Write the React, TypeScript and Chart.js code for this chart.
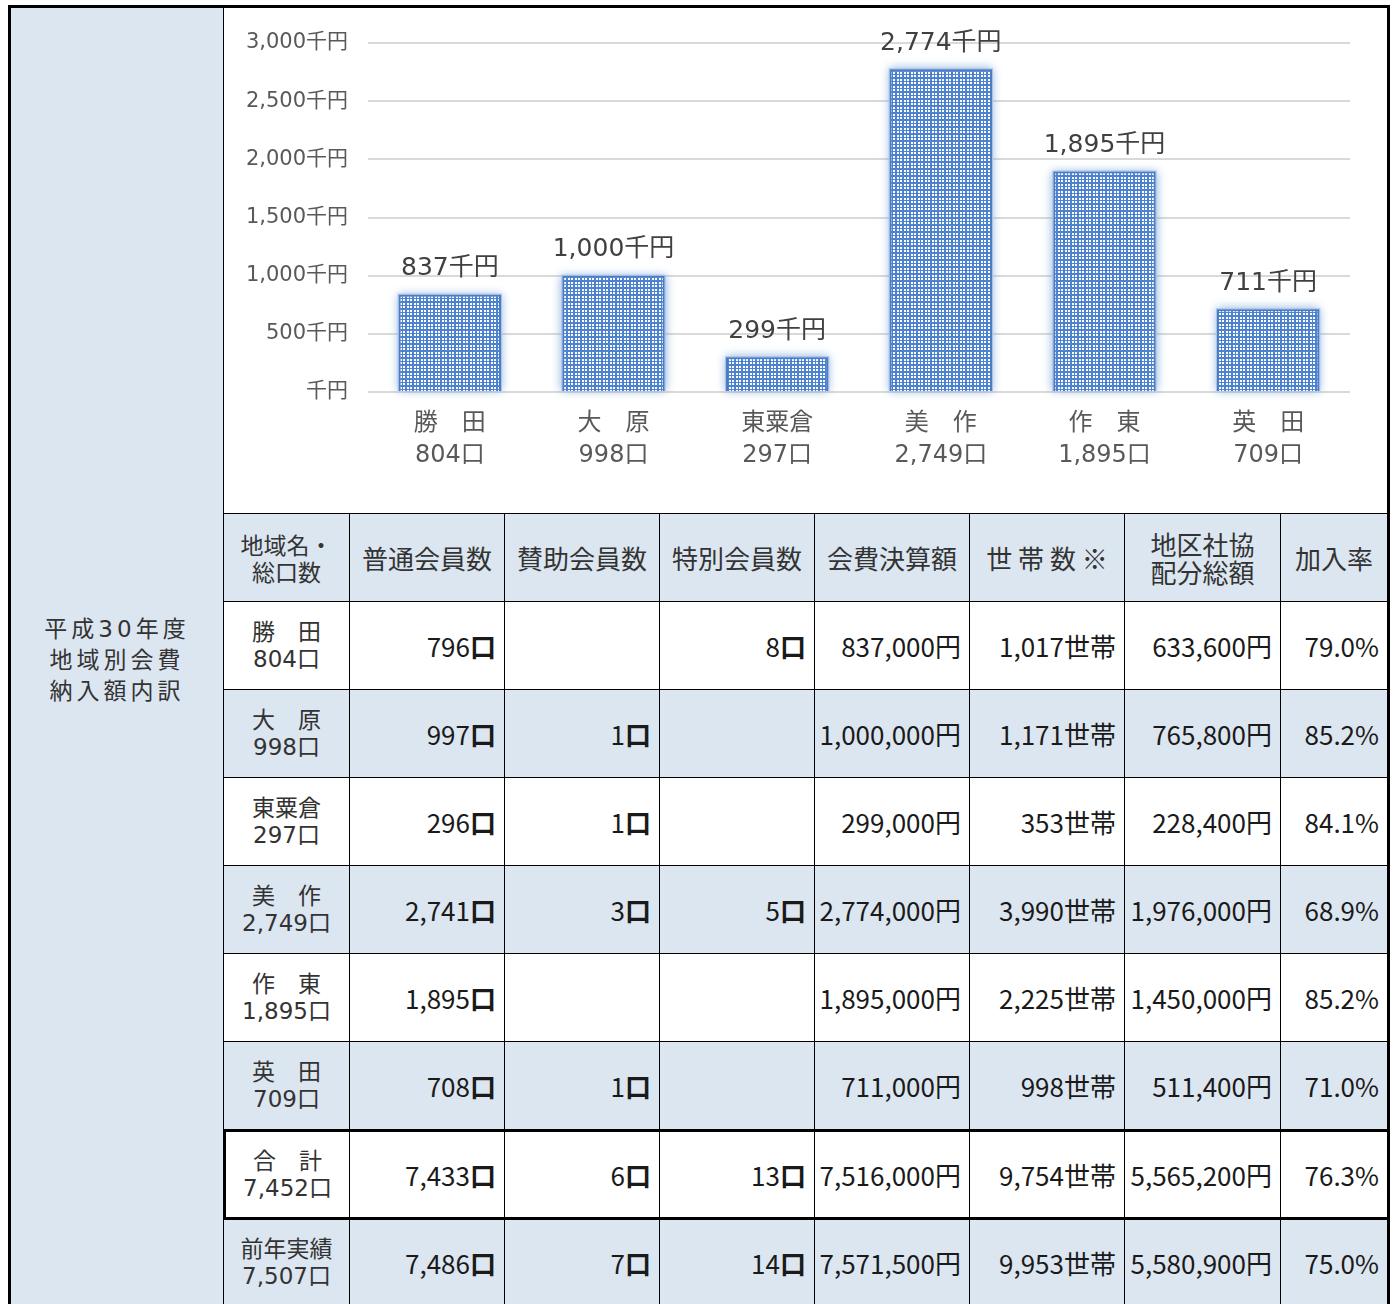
import React, { useEffect, useRef } from 'react';
import { Chart, registerables } from 'chart.js';

Chart.register(...registerables);

if (typeof document !== 'undefined') {
  document.documentElement.style.overflow = 'hidden';
  document.body.style.overflow = 'hidden';
}

// ---- chart data ----
const REGIONS = ['勝　田', '大　原', '東粟倉', '美　作', '作　東', '英　田'];
const TOTAL_UNITS = ['804口', '998口', '297口', '2,749口', '1,895口', '709口'];
const FEE_THOUSAND_YEN = [837, 1000, 299, 2774, 1895, 711];
const Y_MIN = 0;
const Y_MAX = 3000;
const Y_STEP = 500;

// ---- table data ----
const HEADERS = [
  ['地域名・', '総口数'],
  ['普通会員数'],
  ['賛助会員数'],
  ['特別会員数'],
  ['会費決算額'],
  ['世 帯 数 ※'],
  ['地区社協', '配分総額'],
  ['加入率'],
];
const ROW_NAMES = ['勝　田', '大　原', '東粟倉', '美　作', '作　東', '英　田', '合　計', '前年実績'];
const ROW_UNITS = ['804口', '998口', '297口', '2,749口', '1,895口', '709口', '7,452口', '7,507口'];
const REGULAR = ['796', '997', '296', '2,741', '1,895', '708', '7,433', '7,486'];
const SUPPORT = ['', '1', '1', '3', '', '1', '6', '7'];
const SPECIAL = ['8', '', '', '5', '', '', '13', '14'];
const FEES = ['837,000', '1,000,000', '299,000', '2,774,000', '1,895,000', '711,000', '7,516,000', '7,571,500'];
const HOUSEHOLDS = ['1,017', '1,171', '353', '3,990', '2,225', '998', '9,754', '9,953'];
const ALLOCATION = ['633,600', '765,800', '228,400', '1,976,000', '1,450,000', '511,400', '5,565,200', '5,580,900'];
const RATE = ['79.0', '85.2', '84.1', '68.9', '85.2', '71.0', '76.3', '75.0'];
const SIDE_TITLE = ['平成30年度', '地域別会費', '納入額内訳'];

const FONT_ROUND = "'DejaVu Sans', 'Noto Sans CJK JP', sans-serif";
const FONT_JP = "'Noto Sans CJK JP', sans-serif";
const BLUE_BG = '#DCE6F1';
const COL_WIDTHS = [126, 155, 155, 155, 155, 155, 156, 107];
const TOTAL_ROW = 6;

function BarChart() {
  const ref = useRef<HTMLCanvasElement>(null);
  useEffect(() => {
    const canvas = ref.current!;
    const pc = document.createElement('canvas');
    pc.width = 7;
    pc.height = 7;
    const pctx = pc.getContext('2d')!;
    pctx.fillStyle = '#4D82D0';
    pctx.fillRect(0, 0, 7, 7);
    pctx.fillStyle = '#FFFFFF';
    [1, 4].forEach((x) => [1, 4].forEach((y) => pctx.fillRect(x, y, 2, 2)));
    const pattern = canvas.getContext('2d')!.createPattern(pc, 'repeat');

    const barDecor = {
      id: 'barDecor',
      beforeDatasetsDraw(chart: any) {
        const c = chart.ctx;
        c.save();
        c.shadowColor = 'rgba(120,160,215,0.8)';
        c.shadowBlur = 9;
        c.fillStyle = '#A9C3E8';
        chart.getDatasetMeta(0).data.forEach((el: any) => {
          const w = el.width + 2;
          c.fillRect(el.x - w / 2, el.y - 1, w, el.base - el.y + 1);
        });
        c.restore();
      },
      afterDatasetsDraw(chart: any) {
        const c = chart.ctx;
        c.save();
        c.font = `25px ${FONT_ROUND}`;
        c.fillStyle = '#404040';
        c.textAlign = 'center';
        c.textBaseline = 'middle';
        const meta = chart.getDatasetMeta(0);
        meta.data.forEach((el: any, i: number) => {
          const v = chart.data.datasets[0].data[i] as number;
          c.fillText(`${v.toLocaleString('en-US')}千円`, el.x, el.y - 26);
        });
        c.restore();
      },
    };

    const chart = new Chart(canvas, {
      type: 'bar',
      data: {
        labels: REGIONS.map((r, i) => [r, TOTAL_UNITS[i]]),
        datasets: [
          {
            data: FEE_THOUSAND_YEN,
            backgroundColor: pattern as any,
            borderColor: '#4A7CC4',
            borderWidth: 2,
            categoryPercentage: 1,
            barPercentage: 0.625,
          },
        ],
      },
      options: {
        responsive: true,
        maintainAspectRatio: false,
        animation: false,
        layout: { padding: { top: 35, right: 37, left: 0, bottom: 0 } },
        plugins: { legend: { display: false }, tooltip: { enabled: false } },
        scales: {
          x: {
            grid: { display: false, drawTicks: false },
            border: { display: false },
            ticks: {
              color: '#595959',
              font: { family: FONT_ROUND, size: 24, lineHeight: 1.33 },
              padding: 16,
              maxRotation: 0,
              autoSkip: false,
            },
            afterFit: (s: any) => {
              s.height = 121;
            },
          },
          y: {
            min: Y_MIN,
            max: Y_MAX,
            grid: { color: '#D9D9D9', lineWidth: 2, drawTicks: false },
            border: { display: false },
            ticks: {
              stepSize: Y_STEP,
              color: '#595959',
              font: { family: FONT_ROUND, size: 21 },
              padding: 20,
              callback: (v: any) => (Number(v) === 0 ? '千円' : `${Number(v).toLocaleString('en-US')}千円`),
            },
            afterFit: (s: any) => {
              s.width = 144;
            },
          },
        },
      },
      plugins: [barDecor],
    });
    return () => chart.destroy();
  }, []);
  return (
    <div style={{ position: 'relative', width: 1163, height: 505 }}>
      <canvas ref={ref} />
    </div>
  );
}

function Unit({ u }: { u: string }) {
  return <span style={{ fontWeight: 700 }}>{u}</span>;
}

export default function App() {
  const cellBase = (r: number, c: number, bg: string): React.CSSProperties => {
    const isTotal = r === TOTAL_ROW;
    const afterTotal = r === TOTAL_ROW + 1;
    return {
      boxSizing: 'border-box',
      background: bg,
      borderLeft: c === 0 && isTotal ? '3px solid #000' : '1px solid #000',
      borderTop: isTotal || afterTotal ? '3px solid #000' : '1px solid #000',
      display: 'flex',
      alignItems: 'center',
      color: '#1a1a1a',
    };
  };

  const numCell = (r: number, c: number, bg: string, text: string, unit: React.ReactNode, key: string) => (
    <div
      key={key}
      style={{ ...cellBase(r, c, bg), justifyContent: 'flex-end', paddingRight: 8, fontFamily: FONT_JP, fontSize: 26 }}
    >
      {text ? (
        <span>
          {text}
          {unit}
        </span>
      ) : null}
    </div>
  );

  return (
    <div
      style={{
        position: 'absolute',
        left: 8,
        top: 5,
        width: 1382,
        boxSizing: 'border-box',
        border: '3px solid #000',
        display: 'flex',
        fontFamily: FONT_JP,
        background: '#fff',
      }}
    >
      <div
        style={{
          width: 212,
          background: BLUE_BG,
          display: 'flex',
          flexDirection: 'column',
          alignItems: 'center',
          justifyContent: 'center',
          paddingTop: 8,
          boxSizing: 'border-box',
          fontFamily: FONT_ROUND,
          fontSize: 23,
          lineHeight: '31px',
          letterSpacing: 4,
          color: '#333',
        }}
      >
        {SIDE_TITLE.map((t) => (
          <div key={t}>{t}</div>
        ))}
      </div>
      <div style={{ width: 1164 }}>
        <div style={{ borderLeft: '1px solid #000', background: '#fff' }}>
          <BarChart />
        </div>
        <div
          style={{
            display: 'grid',
            gridTemplateColumns: COL_WIDTHS.map((w) => `${w}px`).join(' '),
            gridAutoRows: '88px',
          }}
        >
          {HEADERS.map((h, c) => (
            <div
              key={'h' + c}
              style={{
                boxSizing: 'border-box',
                background: BLUE_BG,
                borderLeft: '1px solid #000',
                borderTop: '1px solid #000',
                display: 'flex',
                flexDirection: 'column',
                alignItems: 'center',
                justifyContent: 'center',
                fontSize: c === 0 ? 23 : 26,
                lineHeight: c === 0 ? '27px' : '28px',
                color: '#333',
                textAlign: 'center',
              }}
            >
              {h.map((line) => (
                <div key={line}>{line}</div>
              ))}
            </div>
          ))}
          {ROW_NAMES.map((name, r) => {
            const bg = r % 2 === 0 ? '#FFFFFF' : BLUE_BG;
            return (
              <React.Fragment key={'r' + r}>
                <div
                  style={{
                    ...cellBase(r, 0, bg),
                    flexDirection: 'column',
                    justifyContent: 'center',
                    fontFamily: FONT_ROUND,
                    fontSize: 23,
                    lineHeight: '27px',
                    color: '#333',
                    textAlign: 'center',
                  }}
                >
                  <div>{name}</div>
                  <div>{ROW_UNITS[r]}</div>
                </div>
                {numCell(r, 1, bg, REGULAR[r], <Unit u="口" />, 'a' + r)}
                {numCell(r, 2, bg, SUPPORT[r], <Unit u="口" />, 'b' + r)}
                {numCell(r, 3, bg, SPECIAL[r], <Unit u="口" />, 'c' + r)}
                {numCell(r, 4, bg, FEES[r], '円', 'd' + r)}
                {numCell(r, 5, bg, HOUSEHOLDS[r], '世帯', 'e' + r)}
                {numCell(r, 6, bg, ALLOCATION[r], '円', 'f' + r)}
                {numCell(r, 7, bg, RATE[r], '%', 'g' + r)}
              </React.Fragment>
            );
          })}
        </div>
      </div>
    </div>
  );
}
